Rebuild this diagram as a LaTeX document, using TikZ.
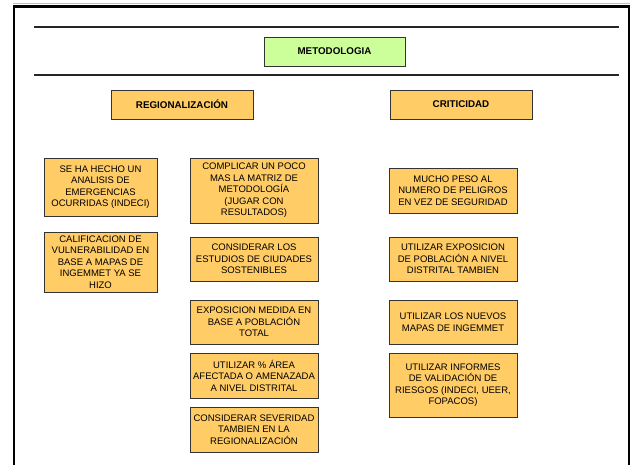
\documentclass[tikz,border=0pt]{standalone}
\usepackage{fontspec}
\setmainfont{Liberation Sans}
\usetikzlibrary{shadows}
\definecolor{boxorange}{HTML}{FFCC66}
\definecolor{boxgreen}{HTML}{CCFF99}
\tikzset{
  basebox/.style={draw=black!80, line width=0.8pt, inner sep=0pt, align=center,
    drop shadow={shadow xshift=1.2pt, shadow yshift=-1.2pt, fill=black!45, opacity=1}},
  itembox/.style={basebox, fill=boxorange, font=\fontsize{9.5}{11.5}\selectfont},
  headbox/.style={basebox, fill=boxorange, font=\bfseries\fontsize{9.8}{12}\selectfont},
  titlebox/.style={basebox, fill=boxgreen, font=\bfseries\fontsize{9.8}{12}\selectfont},
  frameline/.style={line width=2.6pt, black},
  ruleline/.style={line width=1.2pt, black!85}
}
\begin{document}
\begin{tikzpicture}[x=1pt,y=-1pt]
\useasboundingbox (0,0) rectangle (631,465);
% frame
\draw[black!25, line width=1pt] (13,3.5) -- (630,3.5);
\draw[frameline] (14,465) -- (14,6.5) -- (629,6.5) -- (629,465);
% rules
\draw[ruleline] (34,27) -- (619,27);
\draw[ruleline] (34,75) -- (619,75);
% title and headers
\node[titlebox, minimum width=141pt, minimum height=29pt] (metod) at (334.5,51.5) {METODOLOGIA};
\node[headbox, minimum width=142pt, minimum height=29pt] (reg) at (182,104.5) {REGIONALIZACIÓN};
\node[headbox, minimum width=142pt, minimum height=29pt] (crit) at (461,104.5) {CRITICIDAD};
% left column
\node[itembox, minimum width=113pt, minimum height=58pt] (a) at (100.5,187) {SE HA HECHO UN\\ANALISIS DE\\EMERGENCIAS\\OCURRIDAS (INDECI)};
\node[itembox, minimum width=113pt, minimum height=60pt] (b) at (100.5,262) {CALIFICACION DE\\VULNERABILIDAD EN\\BASE A MAPAS DE\\INGEMMET YA SE\\HIZO};
% middle column
\node[itembox, minimum width=128pt, minimum height=65pt] (c) at (254,190.5) {COMPLICAR UN POCO\\MAS LA MATRIZ DE\\METODOLOGÍA\\(JUGAR CON\\RESULTADOS)};
\node[itembox, minimum width=128pt, minimum height=44pt] (d) at (254,259) {CONSIDERAR LOS\\ESTUDIOS DE CIUDADES\\SOSTENIBLES};
\node[itembox, minimum width=128pt, minimum height=44pt] (e) at (254,322) {EXPOSICION MEDIDA EN\\BASE A POBLACIÓN\\TOTAL};
\node[itembox, minimum width=128pt, minimum height=45pt] (f) at (254,375.5) {UTILIZAR \% ÁREA\\AFECTADA O AMENAZADA\\A NIVEL DISTRITAL};
\node[itembox, minimum width=128pt, minimum height=45pt] (g) at (254,429.5) {CONSIDERAR SEVERIDAD\\TAMBIEN EN LA\\REGIONALIZACIÓN};
% right column
\node[itembox, minimum width=128pt, minimum height=45pt] (h) at (453,190.5) {MUCHO PESO AL\\NUMERO DE PELIGROS\\EN VEZ DE SEGURIDAD};
\node[itembox, minimum width=128pt, minimum height=44pt] (i) at (453,259) {UTILIZAR EXPOSICION\\DE POBLACIÓN A NIVEL\\DISTRITAL TAMBIEN};
\node[itembox, minimum width=128pt, minimum height=44pt] (j) at (453,322) {UTILIZAR LOS NUEVOS\\MAPAS DE INGEMMET};
\node[itembox, minimum width=128pt, minimum height=64pt] (k) at (453,385) {UTILIZAR INFORMES\\DE VALIDACIÓN DE\\RIESGOS (INDECI, UEER,\\FOPACOS)};
\end{tikzpicture}
\end{document}
